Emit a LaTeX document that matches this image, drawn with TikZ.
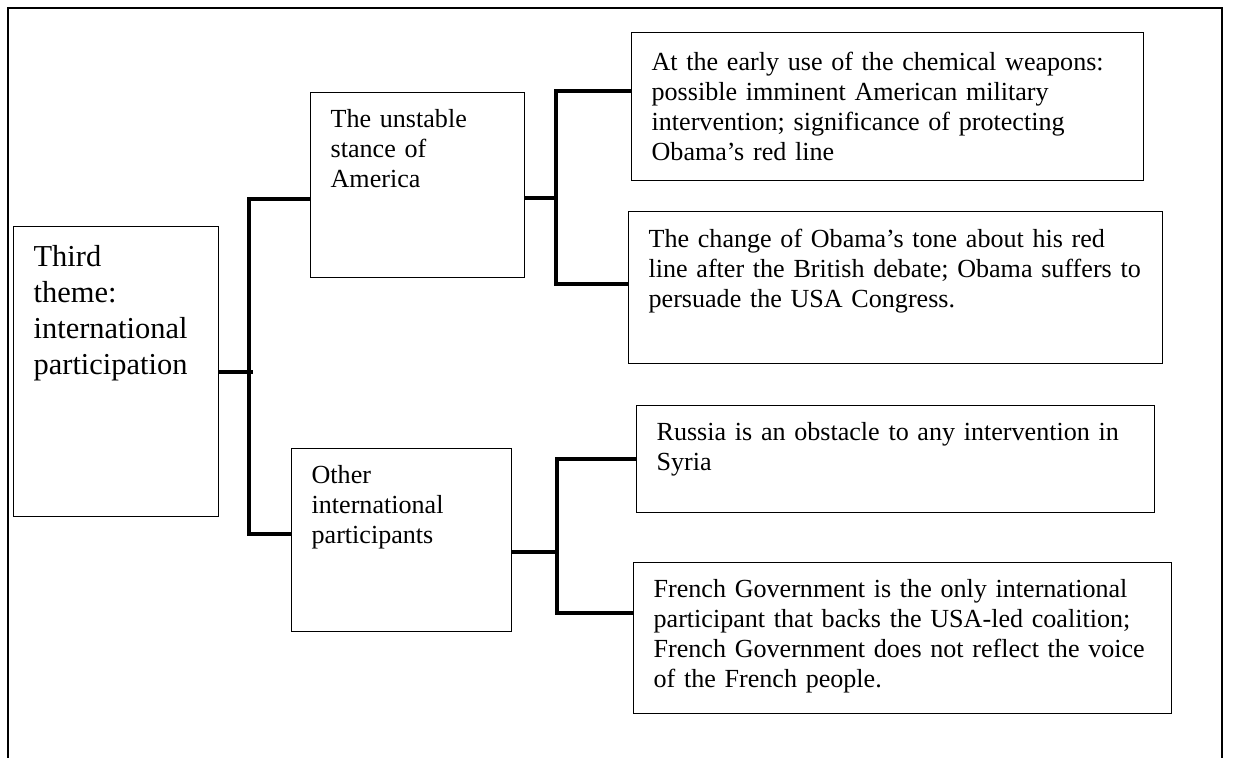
\documentclass[tikz,border=0pt]{standalone}
\usepackage{fontspec}
\setmainfont{Liberation Serif}
\usepackage{tikz}
\usetikzlibrary{positioning, calc}
\tikzstyle{theme} = [draw, line width=0.6pt, anchor=north west, align=left, inner xsep=9.2pt, inner ysep=0pt, text height=16.1pt, font=\fontsize{12}{13.8}\selectfont]
\tikzstyle{link} = [line width=1.8pt]

\begin{document}
\begin{tikzpicture}[x=0.46pt, y=-0.46pt]
\useasboundingbox (0,0) rectangle (1235,758);
\draw[line width=0.6pt] (8,758) -- (8,8) -- (1222,8) -- (1222,758);
\node (main) [theme, text width=75.9pt, text height=18.4pt, text depth=115pt, font=\fontsize{14}{16.5}\selectfont] at (13,226) {Third\\theme:\\international\\participation};
\node (usa) [theme, text width=80pt, text depth=69pt] at (310,92) {The unstable\\stance of\\America};
\node (other) [theme, text width=82.8pt, text depth=68.1pt] at (291,448) {Other\\international\\participants};
\node (early) [theme, text width=217.1pt, text height=17.6pt, text depth=50.5pt] at (631,32) {At the early use of the chemical weapons:\\possible imminent American military\\intervention; significance of protecting\\Obama’s red line};
\node (change) [theme, text width=227.2pt, text height=16.6pt, text depth=53.3pt] at (628,211) {The change of Obama’s tone about his red\\line after the British debate; Obama suffers to\\persuade the USA Congress.};
\node (russia) [theme, text width=219.9pt, text depth=33.1pt] at (636,405) {Russia is an obstacle to any intervention in\\Syria};
\node (french) [theme, text width=229.1pt, text depth=53.4pt] at (633,562) {French Government is the only international\\participant that backs the USA-led coalition;\\French Government does not reflect the voice\\of the French people.};
\coordinate (themetop) at (248.7,199);
\coordinate (themebot) at (248.7,534);
\coordinate (usamid) at (556,198);
\coordinate (usatop) at (556,91);
\coordinate (usabot) at (556,284);
\coordinate (othmid) at (557,552);
\coordinate (othtop) at (557,459);
\coordinate (othbot) at (557,613);
\draw[link] (main.east) -- ([xshift=2pt]main.east -| themetop);
\draw[link] (themetop -| usa.west) -- (themetop) -- (themebot) -- (themebot -| other.west);
\draw[link] (usamid -| usa.east) -- (usamid);
\draw[link] (usatop -| early.west) -- (usatop) -- (usabot) -- (usabot -| change.west);
\draw[link] (othmid -| other.east) -- (othmid);
\draw[link] (othtop -| russia.west) -- (othtop) -- (othbot) -- (othbot -| french.west);
\end{tikzpicture}
\end{document}
